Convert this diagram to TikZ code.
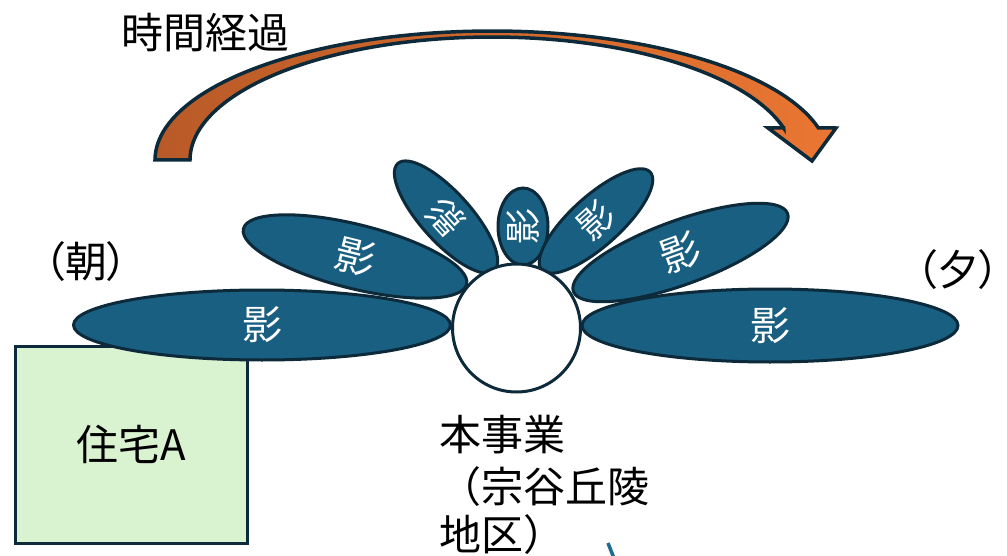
\documentclass[tikz,border=0pt]{standalone}
\usepackage{fontspec}
\setmainfont{Noto Sans CJK JP}
\newfontfamily\paltfont{Noto Sans CJK JP}[RawFeature={+palt}]
\usetikzlibrary{shapes.geometric}
\definecolor{navy}{RGB}{12,42,58}
\definecolor{shadowblue}{RGB}{25,95,130}
\definecolor{houseg}{RGB}{217,242,208}
\definecolor{orgL}{RGB}{184,90,40}
\definecolor{orgR}{RGB}{234,118,50}
\definecolor{tealf}{RGB}{30,108,142}
\begin{document}
\begin{tikzpicture}[x=0.5pt,y=-0.5pt,
  shadowell/.style={ellipse, draw=navy, line width=1.5pt, fill=shadowblue, inner sep=0pt},
  bigtxt/.style={text=white, font=\fontsize{20}{20}\selectfont, inner sep=0pt},
  smalltxt/.style={text=white, font=\fontsize{18}{18}\selectfont, inner sep=0pt},
  lbl/.style={text=black, font=\fontsize{21}{25}\selectfont, inner sep=0pt},
  plbl/.style={text=black, font=\paltfont\fontsize{21}{25}\selectfont, inner sep=0pt},
]
\useasboundingbox (0,0) rectangle (1007,556);

% curved arrow (time passing)
\path[draw=navy, line width=1.75pt, left color=orgL, right color=orgR, line join=miter]
  (155,160) -- plot[domain=180:345.6, samples=90] ({492+337*cos(\x)},{160+129*sin(\x)})
  -- (836,128) -- (812,161) -- (768,128) -- (783.7,128)
  -- plot[domain=345:180, samples=90] ({492+302*cos(\x)},{160+123*sin(\x)}) -- cycle;
\node[lbl] (time) at (205,33) {時間経過};

% house A
\node[draw=navy, line width=1.5pt, fill=houseg, minimum width=116pt, minimum height=98.5pt,
      lbl] (house) at (131,444.5) {住宅A};

% shadows
\node[shadowell, minimum width=188.5pt, minimum height=35pt] (e1) at (262,325) {};
\node[shadowell, minimum width=115pt, minimum height=32pt, rotate=-14] (e2) at (355,256.5) {};
\node[shadowell, minimum width=72pt, minimum height=25pt, rotate=132] (e3) at (446,217) {};
\node[shadowell, minimum width=38.5pt, minimum height=25pt, rotate=90] (e4) at (523,226.5) {};
\node[shadowell, minimum width=73pt, minimum height=25pt, rotate=42] (e5) at (596,221) {};
\node[shadowell, minimum width=114pt, minimum height=32pt, rotate=20] (e6) at (680.5,252.5) {};
\node[shadowell, minimum width=188pt, minimum height=36.5pt] (e7) at (770,325.5) {};

\node[bigtxt] (t1) at (e1) {影};
\node[bigtxt, rotate=-14] (t2) at (e2) {影};
\node[smalltxt, rotate=132] (t3) at (e3) {影};
\node[smalltxt, rotate=90] (t4) at (e4) {影};
\node[smalltxt, rotate=42] (t5) at (e5) {影};
\node[bigtxt, rotate=20] (t6) at (e6) {影};
\node[bigtxt] (t7) at (e7) {影};

% project site
\node[circle, draw=navy, line width=1.5pt, fill=white, minimum size=64pt, inner sep=0pt] (site) at (516.5,328) {};

% labels
\node[plbl] (morning) at (86,262) {（朝）};
\node[plbl] (evening) at (958,270) {（夕）};
\node[lbl, anchor=base west] (proj1) at (439,450.5) {本事業};
\node[lbl, anchor=base west] (proj2) at (439,502.5) {（宗谷丘陵};
\node[lbl, anchor=base west] (proj3) at (439,550.5) {地区）};

% fragment at bottom
\coordinate (fragA) at (608,543);
\coordinate (fragB) at (613.5,557);
\draw[tealf, line width=1.75pt] (fragA) -- (fragB);
\end{tikzpicture}
\end{document}
